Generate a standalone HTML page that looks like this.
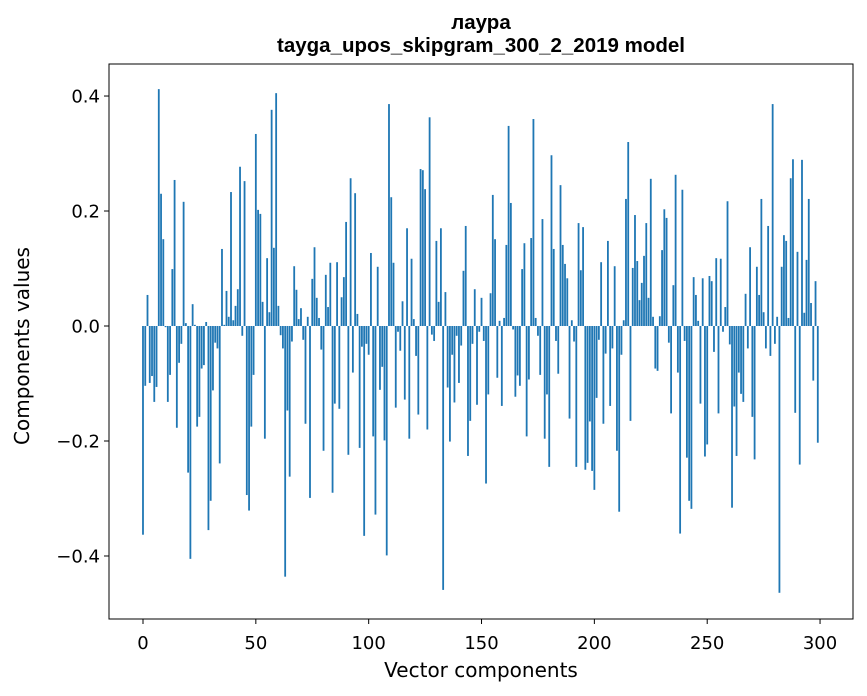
<!DOCTYPE html>
<html><head><meta charset="utf-8"><style>
body{margin:0;background:#fff;}
svg{display:block;font-family:"DejaVu Sans","Liberation Sans",sans-serif;}
</style></head><body>
<svg id="chart" width="867" height="696">
<text x="481" y="29" text-anchor="middle" font-size="20.5" font-weight="bold" font-family="Liberation Sans, sans-serif">лаура</text>
<text x="481" y="52" text-anchor="middle" font-size="20.5" font-weight="bold" font-family="Liberation Sans, sans-serif">tayga_upos_skipgram_300_2_2019 model</text>
<g id="bars"></g>
<g id="axes"></g>
<rect x="109" y="64" width="744" height="555" fill="none" stroke="#000" stroke-width="1"/>
<text x="481" y="677" text-anchor="middle" font-size="20">Vector components</text>
<text transform="translate(29,346) rotate(-90)" text-anchor="middle" font-size="20">Components values</text>
</svg>
<script>
const values = [
-0.363,-0.104,0.054,-0.099,-0.087,-0.132,-0.106,0.412,0.23,0.151,
-0.002,-0.132,-0.085,0.099,0.254,-0.177,-0.064,-0.031,0.216,0.005,
-0.255,-0.405,0.038,0.002,-0.175,-0.158,-0.074,-0.068,0.007,-0.355,
-0.304,-0.112,-0.029,-0.039,-0.239,0.134,0.002,0.061,0.016,0.233,
0.01,0.035,0.064,0.277,-0.017,0.252,-0.294,-0.321,-0.175,-0.085,
0.334,0.202,0.195,0.042,-0.196,0.118,0.024,0.376,0.136,0.405,
0.035,-0.016,-0.039,-0.436,-0.147,-0.262,-0.027,0.104,0.063,0.012,
0.031,-0.024,-0.17,0.016,-0.299,0.082,0.137,0.049,0.014,-0.041,
-0.217,0.089,0.033,0.11,-0.29,-0.135,0.111,-0.144,0.05,0.085,
0.181,-0.224,0.257,-0.081,0.231,0.021,-0.212,-0.036,-0.365,-0.031,
-0.05,0.127,-0.192,-0.328,0.103,-0.111,-0.071,-0.199,-0.399,0.386,
0.224,0.11,-0.142,-0.01,-0.043,0.043,-0.128,0.17,-0.196,0.117,
0.012,-0.052,-0.154,0.273,0.271,0.238,-0.18,0.363,-0.015,-0.026,
0.148,0.042,0.17,-0.459,0.059,-0.107,-0.201,-0.05,-0.133,-0.017,
-0.099,-0.034,0.096,0.174,-0.226,-0.165,-0.031,0.064,-0.137,-0.01,
0.049,-0.026,-0.274,-0.119,0.057,0.228,0.151,-0.09,0.009,-0.139,
0.014,0.141,0.348,0.214,-0.006,-0.123,-0.086,-0.104,0.099,0.144,
-0.192,-0.093,0.153,0.36,0.014,-0.017,-0.085,0.186,-0.196,-0.119,
-0.245,0.297,0.134,-0.026,-0.083,0.245,0.141,0.108,0.083,-0.161,
0.01,-0.027,-0.245,0.179,0.097,0.172,-0.25,-0.238,-0.166,-0.252,
-0.285,-0.125,-0.024,0.111,-0.17,-0.048,0.148,-0.139,-0.039,0.104,
-0.217,-0.323,-0.05,0.01,0.221,0.32,-0.165,0.101,0.193,0.113,
0.045,0.075,0.122,0.179,0.049,0.256,0.016,-0.074,-0.078,0.017,
0.132,0.203,0.188,-0.029,-0.152,0.071,0.263,-0.081,-0.361,0.237,
-0.026,-0.229,-0.304,-0.318,0.085,0.054,0.009,-0.135,0.083,-0.227,
-0.206,0.087,0.078,-0.045,0.118,-0.152,0.117,-0.01,0.033,0.217,
-0.032,-0.316,-0.14,-0.226,-0.081,-0.118,-0.132,0.056,-0.039,0.137,
-0.158,-0.232,0.103,0.054,0.221,0.024,-0.039,0.174,-0.052,0.386,
-0.031,0.016,-0.464,0.103,0.158,0.148,0.014,0.257,0.29,-0.151,
0.129,-0.241,0.289,0.023,0.115,0.221,0.04,-0.095,0.078,-0.203
];
const xTicks = [0,50,100,150,200,250,300];
const yTicks = [-0.4,-0.2,0,0.2,0.4];
const yTickLabels = ["\u22120.4","\u22120.2","0.0","0.2","0.4"];

const X0=109,X1=853,Y0=64,Y1=619;
const xMin=-15.06,xMax=314.6,yMin=-0.5096,yMax=0.4557;
function xs(v){return X0+(v-xMin)/(xMax-xMin)*(X1-X0);}
function ys(v){return Y1-(v-yMin)/(yMax-yMin)*(Y1-Y0);}
const NS="http://www.w3.org/2000/svg";
const bars=document.getElementById('bars');
const bw=xs(0.8)-xs(0);
values.forEach((v,i)=>{
  const r=document.createElementNS(NS,'rect');
  const y=Math.min(ys(v),ys(0));
  r.setAttribute('x',xs(i)-bw/2);
  r.setAttribute('y',y);
  r.setAttribute('width',bw);
  r.setAttribute('height',Math.abs(ys(v)-ys(0)));
  r.setAttribute('fill','#1f77b4');
  
  
  bars.appendChild(r);
});
const axes=document.getElementById('axes');
xTicks.forEach(t=>{
  const l=document.createElementNS(NS,'line');
  l.setAttribute('x1',xs(t));l.setAttribute('x2',xs(t));
  l.setAttribute('y1',Y1);l.setAttribute('y2',Y1+5);
  l.setAttribute('stroke','#000');
  
  
  axes.appendChild(l);
  const tx=document.createElementNS(NS,'text');
  tx.setAttribute('x',xs(t));tx.setAttribute('y',Y1+30);
  tx.setAttribute('text-anchor','middle');tx.setAttribute('font-size','18');
  tx.textContent=String(t);
  
  
  axes.appendChild(tx);
});
yTicks.forEach((t,i)=>{
  const l=document.createElementNS(NS,'line');
  l.setAttribute('x1',X0-5);l.setAttribute('x2',X0);
  l.setAttribute('y1',ys(t));l.setAttribute('y2',ys(t));
  l.setAttribute('stroke','#000');
  
  
  axes.appendChild(l);
  const tx=document.createElementNS(NS,'text');
  tx.setAttribute('x',X0-9);tx.setAttribute('y',ys(t)+6.5);
  tx.setAttribute('text-anchor','end');tx.setAttribute('font-size','18');
  tx.textContent=yTickLabels[i];
  
  
  axes.appendChild(tx);
});
</script>
</body></html>
